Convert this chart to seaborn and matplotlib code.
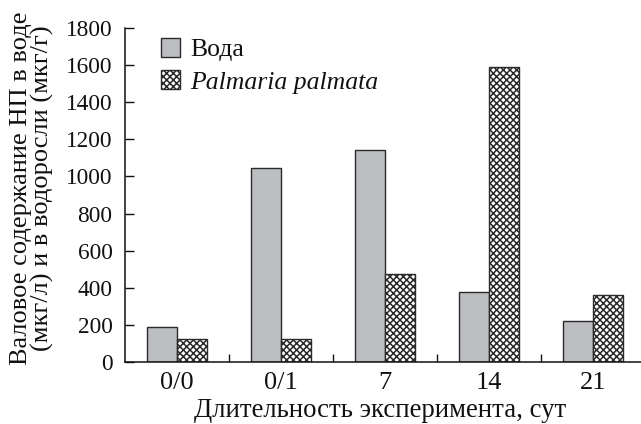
import matplotlib
matplotlib.use("Agg")
import matplotlib.pyplot as plt
from matplotlib.patches import Patch
import seaborn as sns
import pandas as pd

# data
days = ["0/0", "0/1", "7", "14", "21"]
water = [190, 1045, 1140, 378, 223]
palmaria = [122, 122, 472, 1588, 361]
series_names = ["Вода", "Palmaria palmata"]
y_ticks = [0, 200, 400, 600, 800, 1000, 1200, 1400, 1600, 1800]

df = pd.DataFrame({
    "day": days * 2,
    "value": water + palmaria,
    "series": [series_names[0]] * len(days) + [series_names[1]] * len(days),
})

sns.set_style("ticks")
plt.rcParams["font.family"] = ["Liberation Serif", "DejaVu Serif"]
plt.rcParams["hatch.linewidth"] = 1.1
plt.rcParams["hatch.color"] = "#1a1a1a"

GRAY = "#BDBEC2"
EDGE = "#2a2a2a"
TXT = "#111111"
HATCH = "xxxxx"

fig = plt.figure(figsize=(6.41, 4.24), dpi=100)
ax = fig.add_axes([125 / 641, 62 / 424, 520 / 641, 334 / 424])

sns.barplot(data=df, x="day", y="value", hue="series", order=days,
            hue_order=series_names, palette=[GRAY, "white"], width=0.58,
            edgecolor=EDGE, linewidth=1.0, saturation=1, legend=False,
            ax=ax, errorbar=None)

for p in ax.containers[1]:
    p.set_hatch(HATCH)

ax.set_xlim(-0.5, 4.5)
ax.set_ylim(0, 1800)
ax.set_yticks(y_ticks)
ax.set_xlabel("")
ax.set_ylabel("")

for s in ["top", "right"]:
    ax.spines[s].set_visible(False)
for s in ["left", "bottom"]:
    ax.spines[s].set_linewidth(1.1)
    ax.spines[s].set_color(TXT)

ax.set_xticks([0.5, 1.5, 2.5, 3.5], minor=True)
ax.tick_params(axis="x", which="major", length=0, pad=7, labelsize=19, colors=TXT)
ax.tick_params(axis="x", which="minor", direction="in", length=6, width=1.0, color=TXT)
ax.tick_params(axis="y", which="major", direction="in", length=6.5, width=1.0,
               pad=9, labelsize=16.8, colors=TXT)

fig.text(380 / 641, 1 - 417 / 424, "Длительность эксперимента, сут",
         ha="center", va="baseline", fontsize=19.3, color=TXT)
fig.text(32 / 641, 1 - 188 / 424,
         "Валовое содержание НП в воде\n(мкг/л) и в водоросли (мкг/г)",
         rotation=90, ha="center", va="center", fontsize=19.0,
         linespacing=0.97, color=TXT, multialignment="center")

handles = [Patch(facecolor=GRAY, edgecolor=EDGE, linewidth=1.0),
           Patch(facecolor="white", edgecolor=EDGE, linewidth=1.0, hatch=HATCH)]
leg = ax.legend(handles, series_names, loc="upper left",
                bbox_to_anchor=(161 / 641, 1 - 38 / 424),
                bbox_transform=fig.transFigure, frameon=False, fontsize=18.5,
                handlelength=0.75, handleheight=0.75, handletextpad=0.4,
                labelspacing=0.35, borderpad=0, borderaxespad=0)
leg.get_texts()[1].set_fontstyle("italic")
for t in leg.get_texts():
    t.set_color(TXT)

fig.savefig("out.png", dpi=100)
